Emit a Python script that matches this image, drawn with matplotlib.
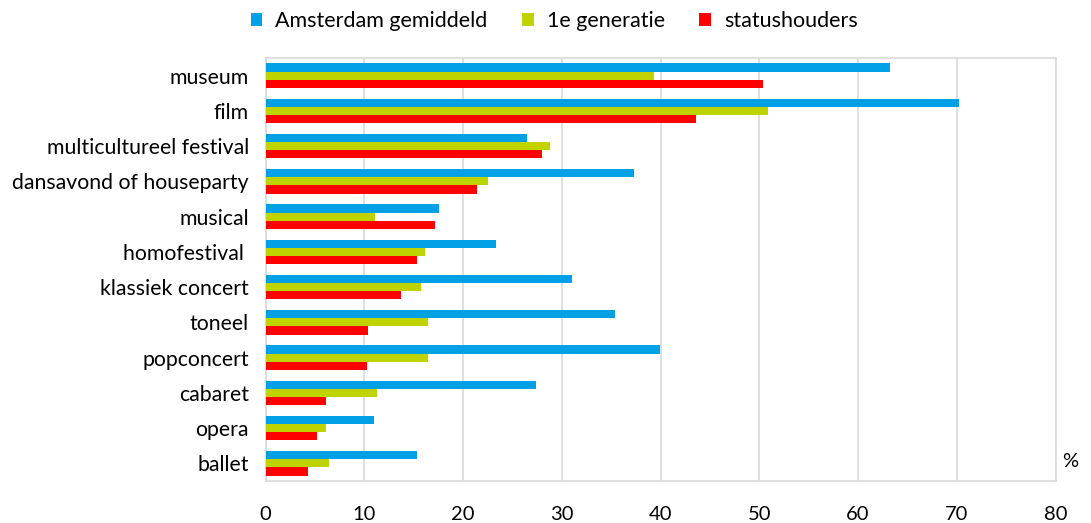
import matplotlib.pyplot as plt
import numpy as np

plt.rcParams['font.family'] = ['Lato', 'DejaVu Sans']

categories = ['museum', 'film', 'multicultureel festival', 'dansavond of houseparty',
              'musical', 'homofestival ', 'klassiek concert', 'toneel', 'popconcert',
              'cabaret', 'opera', 'ballet']

amsterdam = [63.2, 70.2, 26.5, 37.3, 17.6, 23.3, 31.0, 35.4, 39.9, 27.4, 11.0, 15.3]
eerste_generatie = [39.3, 50.9, 28.8, 22.5, 11.1, 16.1, 15.7, 16.5, 16.5, 11.3, 6.1, 6.4]
statushouders = [50.4, 43.6, 28.0, 21.4, 17.2, 15.3, 13.7, 10.4, 10.3, 6.1, 5.2, 4.3]

series = [('Amsterdam gemiddeld', amsterdam, '#00a0e6'),
          ('1e generatie', eerste_generatie, '#bfd300'),
          ('statushouders', statushouders, '#ff0000')]

fig = plt.figure(figsize=(10.91, 5.23), dpi=100)
ax = fig.add_axes([0.2434, 0.0803, 0.7241, 0.8088])

y = np.arange(len(categories))
h = 0.23
for i, (name, vals, col) in enumerate(series):
    ax.barh(y + (i - 1) * h, vals, height=h, color=col, label=name, zorder=3)

ax.set_ylim(len(categories) - 0.5, -0.5)
ax.set_xlim(0, 80)
ax.set_xticks(np.arange(0, 81, 10))
ax.set_yticks(y)
ax.set_yticklabels(categories, fontsize=15.3)
ax.tick_params(axis='x', labelsize=14.5, length=0, pad=18)
ax.tick_params(axis='y', length=0, pad=12)
ax.grid(axis='x', color='#d9d9d9', linewidth=1.2, zorder=0)
for s in ax.spines.values():
    s.set_color('#d9d9d9')
    s.set_linewidth(1.2)

ax.text(1.0085, 0.045, '%', transform=ax.transAxes, fontsize=14.5, va='center', ha='left')

fig.legend(loc='upper center', bbox_to_anchor=(0.508, 1.016), ncol=3, frameon=False,
           fontsize=15.5, handlelength=0.55, handleheight=0.55, handletextpad=0.6,
           columnspacing=1.6)

fig.savefig('out.png', dpi=100)
